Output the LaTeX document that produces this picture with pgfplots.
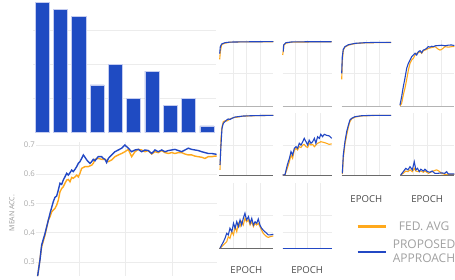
\documentclass[border=0pt]{standalone}
\usepackage{fontspec}
\setmainfont{Open Sans}
\usepackage{pgfplots}
\pgfplotsset{compat=1.18}
\definecolor{fedorange}{HTML}{FFA91C}
\definecolor{propblue}{HTML}{2348C4}
\definecolor{barblue}{HTML}{1F4BC2}
\definecolor{baredge}{HTML}{C4CCF0}
\definecolor{gridgray}{HTML}{ECECEC}
\definecolor{ticktext}{HTML}{A8A8A8}
\definecolor{labtext}{HTML}{959595}
\definecolor{legtext}{HTML}{A0A0A0}
\definecolor{epochtext}{HTML}{4A4A4A}
\definecolor{zerolight}{HTML}{B4B4B4}
\definecolor{zerodark}{HTML}{6A6A6A}

\pgfplotsset{
  base/.style={scale only axis, anchor=south west,
    axis line style={draw=none}, tick style={draw=none},
    major tick length=0pt,
    grid=major, major grid style={gridgray, line width=0.6pt}},
  panel/.style={base, xmin=0, xmax=198, ymin=0, clip=false,
    xtick={50,100,150}, xticklabels={}, yticklabels={},
    extra y ticks={0}, extra y tick labels={},
    extra y tick style={grid=major, major grid style={draw=#1, line width=0.9pt}}},
  bl/.style={propblue, line width=1.1pt, no marks},
  ol/.style={fedorange, line width=1.1pt, no marks},
  epoch/.style={xlabel={EPOCH}, xlabel style={at={(axis description cs:0.5,0)}, anchor=center, yshift=-#1,
    font=\fontsize{9.6}{11}\selectfont, text=epochtext}},
}

\begin{document}
\begin{tikzpicture}
\path[use as bounding box] (0pt,0pt) rectangle (455pt,279pt);

% ---------- bar chart ----------
\begin{axis}[base, at={(33pt,146.3pt)}, width=183pt, height=131.7pt,
  xmin=-0.5, xmax=9.5, ymin=0, ymax=19.25,
  xmajorgrids=false, ytick={5,10,15}, yticklabels={}, xtick=\empty,
  ybar, bar width=0.77]
\addplot[fill=barblue, draw=baredge, line width=0.5pt] coordinates {
(0,19) (1,18) (2,17) (3,7) (4,10) (5,5) (6,9) (7,4) (8,5) (9,1)};
\end{axis}

% ---------- main chart ----------
\begin{axis}[base, at={(36pt,3pt)}, width=181pt, height=134pt,
  xmin=3.86, xmax=197.9, ymin=0.2514, ymax=0.7103, clip=false,
  xtick={50,100,150}, xticklabels={},
  ytick={0.3,0.4,0.5,0.6,0.7},
  yticklabel style={font=\fontsize{7.8}{9}\selectfont, text=ticktext, inner xsep=1pt,
    /pgf/number format/fixed, /pgf/number format/precision=1, /pgf/number format/assume math mode=true},
  ylabel={MEAN ACC.},
  ylabel style={at={(axis description cs:-0.1326,0.47)}, anchor=center,
    font=\fontsize{7}{8}\selectfont, text=labtext}]
\addplot[fedorange, line width=1.4pt, no marks] coordinates {
(5.6,0.251) (9.9,0.351) (13.5,0.391) (17.1,0.443) (18.9,0.454) (20.7,0.471) (22.4,0.477)
(24.2,0.483) (26.0,0.494) (27.8,0.511) (29.6,0.540) (31.4,0.551) (33.1,0.557) (34.9,0.569)
(36.8,0.580) (38.5,0.582) (40.3,0.574) (42.1,0.589) (43.8,0.586) (45.7,0.591) (47.5,0.597)
(49.2,0.591) (51.0,0.603) (52.8,0.620) (56.4,0.626) (59.9,0.626) (63.5,0.631) (65.3,0.637)
(67.1,0.651) (70.6,0.654) (74.3,0.651) (77.8,0.651) (81.4,0.643) (85.0,0.649) (88.5,0.660)
(92.1,0.666) (95.7,0.671) (99.2,0.677) (102.8,0.685) (106.4,0.660) (110.0,0.677) (113.5,0.685)
(117.1,0.683) (120.7,0.677) (124.2,0.681) (127.9,0.669) (131.4,0.677) (134.9,0.674) (138.6,0.681)
(142.1,0.674) (145.7,0.671) (149.3,0.674) (152.8,0.671) (156.4,0.674) (160.0,0.674) (163.6,0.669)
(167.1,0.666) (170.7,0.666) (174.3,0.662) (177.8,0.660) (181.5,0.658) (185.0,0.654) (188.5,0.660)
(192.2,0.660) (195.7,0.662) (197.5,0.662)};
\addplot[propblue, line width=1.4pt, no marks] coordinates {
(5.6,0.251) (8.1,0.306) (9.9,0.357) (13.5,0.397) (17.1,0.443) (18.9,0.466) (22.4,0.506)
(24.2,0.521) (26.0,0.525) (27.8,0.546) (29.6,0.569) (31.4,0.565) (33.1,0.580) (34.9,0.591)
(36.8,0.603) (38.5,0.597) (40.3,0.605) (42.1,0.614) (43.8,0.609) (45.7,0.617) (47.5,0.626)
(49.2,0.637) (51.0,0.643) (52.8,0.654) (54.6,0.666) (56.4,0.658) (58.2,0.649) (59.9,0.643)
(61.7,0.637) (63.5,0.643) (65.3,0.651) (67.1,0.646) (68.9,0.654) (70.6,0.660) (74.3,0.660)
(76.0,0.654) (77.8,0.651) (79.6,0.640) (81.4,0.654) (85.0,0.666) (88.5,0.677) (92.1,0.683)
(95.7,0.689) (99.2,0.700) (102.8,0.689) (106.4,0.677) (110.0,0.683) (113.5,0.685) (117.1,0.677)
(120.7,0.683) (124.2,0.681) (127.9,0.671) (131.4,0.683) (134.9,0.677) (138.6,0.683) (142.1,0.677)
(145.7,0.681) (149.3,0.683) (152.8,0.685) (156.4,0.681) (160.0,0.677) (163.6,0.683) (167.1,0.689)
(170.7,0.685) (174.3,0.683) (177.8,0.681) (181.5,0.677) (185.0,0.674) (188.5,0.671) (192.2,0.671)
(195.7,0.669) (197.5,0.668)};
\end{axis}

% ---------- row 1 ----------
\begin{axis}[panel=zerolight, at={(219.3pt,173pt)}, width=54pt, height=66pt, ymax=1.009, ytick={0.5}]
\addplot[ol] coordinates {(1.5,0.714) (3.7,0.83) (8.8,0.94) (21,0.96) (39,0.975) (80,0.980) (198,0.983)};
\addplot[bl] coordinates {(1.5,0.80) (3.7,0.907) (8.8,0.948) (21,0.968) (39,0.977) (80,0.980) (120,0.982) (160,0.983) (198,0.984)};
\end{axis}
\begin{axis}[panel=zerolight, at={(282.7pt,173pt)}, width=49pt, height=66pt, ymax=1.009, ytick={0.5}]
\addplot[ol] coordinates {(0,0.78) (2.4,0.85) (5,0.93) (13,0.96) (36,0.977) (198,0.982)};
\addplot[bl] coordinates {(2.4,0.83) (3.7,0.933) (13,0.968) (36,0.979) (100,0.982) (198,0.983)};
\end{axis}
\begin{axis}[panel=zerolight, at={(341.7pt,173pt)}, width=49.3pt, height=66pt, ymax=1.009, ytick={0.5}]
\addplot[ol] coordinates {(0,0.408) (2.4,0.68) (6.4,0.85) (13,0.9) (27,0.93) (54,0.955) (94,0.966) (198,0.971)};
\addplot[bl] coordinates {(0,0.5) (2.4,0.754) (6.4,0.867) (13,0.907) (27,0.937) (54,0.958) (94,0.968) (134,0.972) (198,0.972)};
\end{axis}
\begin{axis}[panel=zerolight, at={(400pt,173pt)}, width=54.3pt, height=66pt, ymax=1.009, ytick={0.5}]
\addplot[ol] coordinates {(0,0.0) (6,0.04) (12,0.168) (18,0.27) (24,0.397) (30.6,0.55) (36.5,0.653)
(42.6,0.703) (48.7,0.729) (54.7,0.78) (61,0.806) (67,0.815) (73,0.83) (79,0.806) (85,0.845)
(91,0.855) (97,0.865) (103,0.88) (116,0.895) (128,0.907) (140,0.867) (146,0.855) (152,0.865)
(164,0.907) (176,0.9) (188,0.907) (198,0.907)};
\addplot[bl] coordinates {(0,0.015) (6,0.142) (12,0.295) (18,0.423) (24.4,0.576) (30.6,0.653) (36.5,0.703)
(42.6,0.754) (48.7,0.78) (54.7,0.806) (61,0.78) (67,0.83) (73,0.845) (79,0.815) (85,0.855)
(91,0.865) (97,0.88) (103,0.907) (109,0.9) (116,0.913) (122,0.907) (128,0.92) (140,0.924)
(152,0.929) (164,0.92) (176,0.93) (188,0.933) (198,0.924)};
\end{axis}

% ---------- row 2 ----------
\begin{axis}[panel=zerodark, at={(219.3pt,103.7pt)}, width=54pt, height=62.3pt, ymax=1.028, ytick={0.5}]
\addplot[ol] coordinates {(2.6,0.09) (6.2,0.61) (9.9,0.80) (14.7,0.885) (21,0.9) (27,0.895) (33,0.91)
(39,0.93) (52,0.95) (88,0.976) (125,0.983) (198,0.99)};
\addplot[bl] coordinates {(2.6,0.17) (6.2,0.5) (9.9,0.775) (14.7,0.858) (21,0.885) (27,0.912) (33,0.93)
(39,0.92) (46,0.94) (58,0.962) (88,0.978) (125,0.984) (198,0.99)};
\end{axis}
\begin{axis}[panel=zerodark, at={(282.7pt,103.7pt)}, width=49pt, height=62.3pt, ymax=1.028, ytick={0.5}]
\addplot[ol] coordinates {(0,0.005) (9.3,0.01) (18.6,0.115) (27,0.225) (33.6,0.335) (40,0.28) (47,0.418)
(54,0.445) (60,0.418) (67,0.472) (74,0.46) (81,0.5) (87,0.51) (94,0.472) (101,0.46) (107,0.528)
(114,0.5) (121,0.51) (128,0.472) (134,0.5) (141,0.528) (148,0.54) (154,0.555) (168,0.54)
(177,0.528) (188,0.51) (198,0.52)};
\addplot[bl] coordinates {(0,0.005) (9.3,0.01) (18.6,0.17) (27,0.28) (33.6,0.39) (40,0.335) (47,0.445)
(54,0.472) (60,0.445) (67,0.528) (74,0.5) (81,0.555) (87,0.61) (94,0.555) (101,0.5) (107,0.58)
(114,0.528) (121,0.555) (128,0.61) (134,0.528) (141,0.637) (148,0.61) (154,0.677) (161,0.637)
(168,0.677) (177,0.66) (188,0.65) (198,0.61)};
\end{axis}
\begin{axis}[panel=zerodark, epoch=23.7pt, at={(341.7pt,103.7pt)}, width=49.3pt, height=62.3pt, ymax=1.028, ytick={0.5}]
\addplot[ol] coordinates {(2.6,0.02) (6.4,0.28) (13,0.51) (20,0.665) (27,0.80) (33,0.885) (40,0.93)
(53,0.96) (80,0.98) (134,0.988) (198,0.99)};
\addplot[bl] coordinates {(2.6,0.033) (6.4,0.335) (13,0.555) (20,0.72) (27,0.83) (33,0.912) (40,0.94)
(53,0.967) (80,0.983) (134,0.99) (198,0.99)};
\end{axis}
\begin{axis}[panel=zerodark, epoch=23.7pt, at={(400pt,103.7pt)}, width=54.3pt, height=62.3pt, ymax=1.028, ytick={0.5}]
\addplot[ol] coordinates {(2.5,0.005) (12,0.033) (21,0.07) (29,0.06) (36.5,0.09) (45,0.06) (52,0.115)
(58,0.07) (67,0.06) (76,0.07) (85,0.05) (91,0.07) (104,0.033) (116,0.06) (124,0.075) (133,0.09)
(142,0.07) (151,0.033) (163,0.016) (176,0.016) (198,0.016)};
\addplot[bl] coordinates {(2.5,0.005) (12,0.06) (21,0.115) (29,0.09) (36.5,0.142) (45,0.09) (52,0.225)
(58,0.09) (64,0.115) (70,0.06) (76,0.1) (85,0.07) (91,0.1) (100,0.06) (109,0.05) (117,0.07)
(127,0.033) (139,0.033) (151,0.04) (163,0.033) (170,0.06) (176,0.022) (188,0.022) (198,0.022)};
\end{axis}

% ---------- row 3 ----------
\begin{axis}[panel=zerodark, epoch=22pt, at={(219.3pt,30.7pt)}, width=54pt, height=65.3pt, ymax=0.4006, ytick={0.1,0.2}]
\addplot[ol] coordinates {(2.6,0) (8.8,0.01) (15,0.02) (21,0.03) (27,0.04) (33,0.071) (39,0.061)
(46,0.102) (52,0.082) (58,0.133) (64,0.102) (70,0.153) (76,0.133) (82,0.163) (88,0.143) (94,0.184)
(100,0.163) (107,0.174) (113,0.143) (119,0.163) (125,0.133) (131,0.153) (137,0.143) (143,0.153)
(149,0.133) (155,0.112) (161,0.092) (167,0.082) (174,0.071) (180,0.067) (186,0.071) (198,0.076)};
\addplot[bl] coordinates {(2.6,0) (8.8,0.02) (15,0.04) (21,0.061) (27,0.092) (33,0.082) (39,0.123)
(46,0.102) (52,0.153) (58,0.123) (64,0.163) (70,0.133) (76,0.174) (82,0.143) (88,0.184) (94,0.215)
(100,0.174) (107,0.194) (113,0.153) (119,0.184) (125,0.143) (131,0.163) (137,0.153) (143,0.18)
(149,0.143) (155,0.123) (161,0.112) (167,0.102) (174,0.092) (180,0.082) (186,0.082) (198,0.086)};
\end{axis}
\begin{axis}[panel=zerodark, epoch=22pt, at={(282.7pt,30.7pt)}, width=49pt, height=65.3pt, ymax=0.4006, ytick={0.1,0.2},
  legend style={at={(axis description cs:1.435,0.447)}, anchor=north west, draw=none, fill=none,
    font=\fontsize{12}{14.4}\selectfont, text=legtext, row sep=8pt,
    nodes={inner sep=0pt, align=left},
    /tikz/every odd column/.append style={column sep=6pt}},
  legend image code/.code={\draw[#1, line width=2.6pt] (0pt,0pt) -- (28pt,0pt);}]
\addplot[ol] coordinates {(0,0) (50,0) (100,0) (150,0) (198,0)};
\addlegendentry{FED. AVG}
\addplot[bl] coordinates {(0,0) (50,0) (100,0) (150,0) (198,0)};
\addlegendentry{PROPOSED\\APPROACH}
\end{axis}
\end{tikzpicture}
\end{document}
